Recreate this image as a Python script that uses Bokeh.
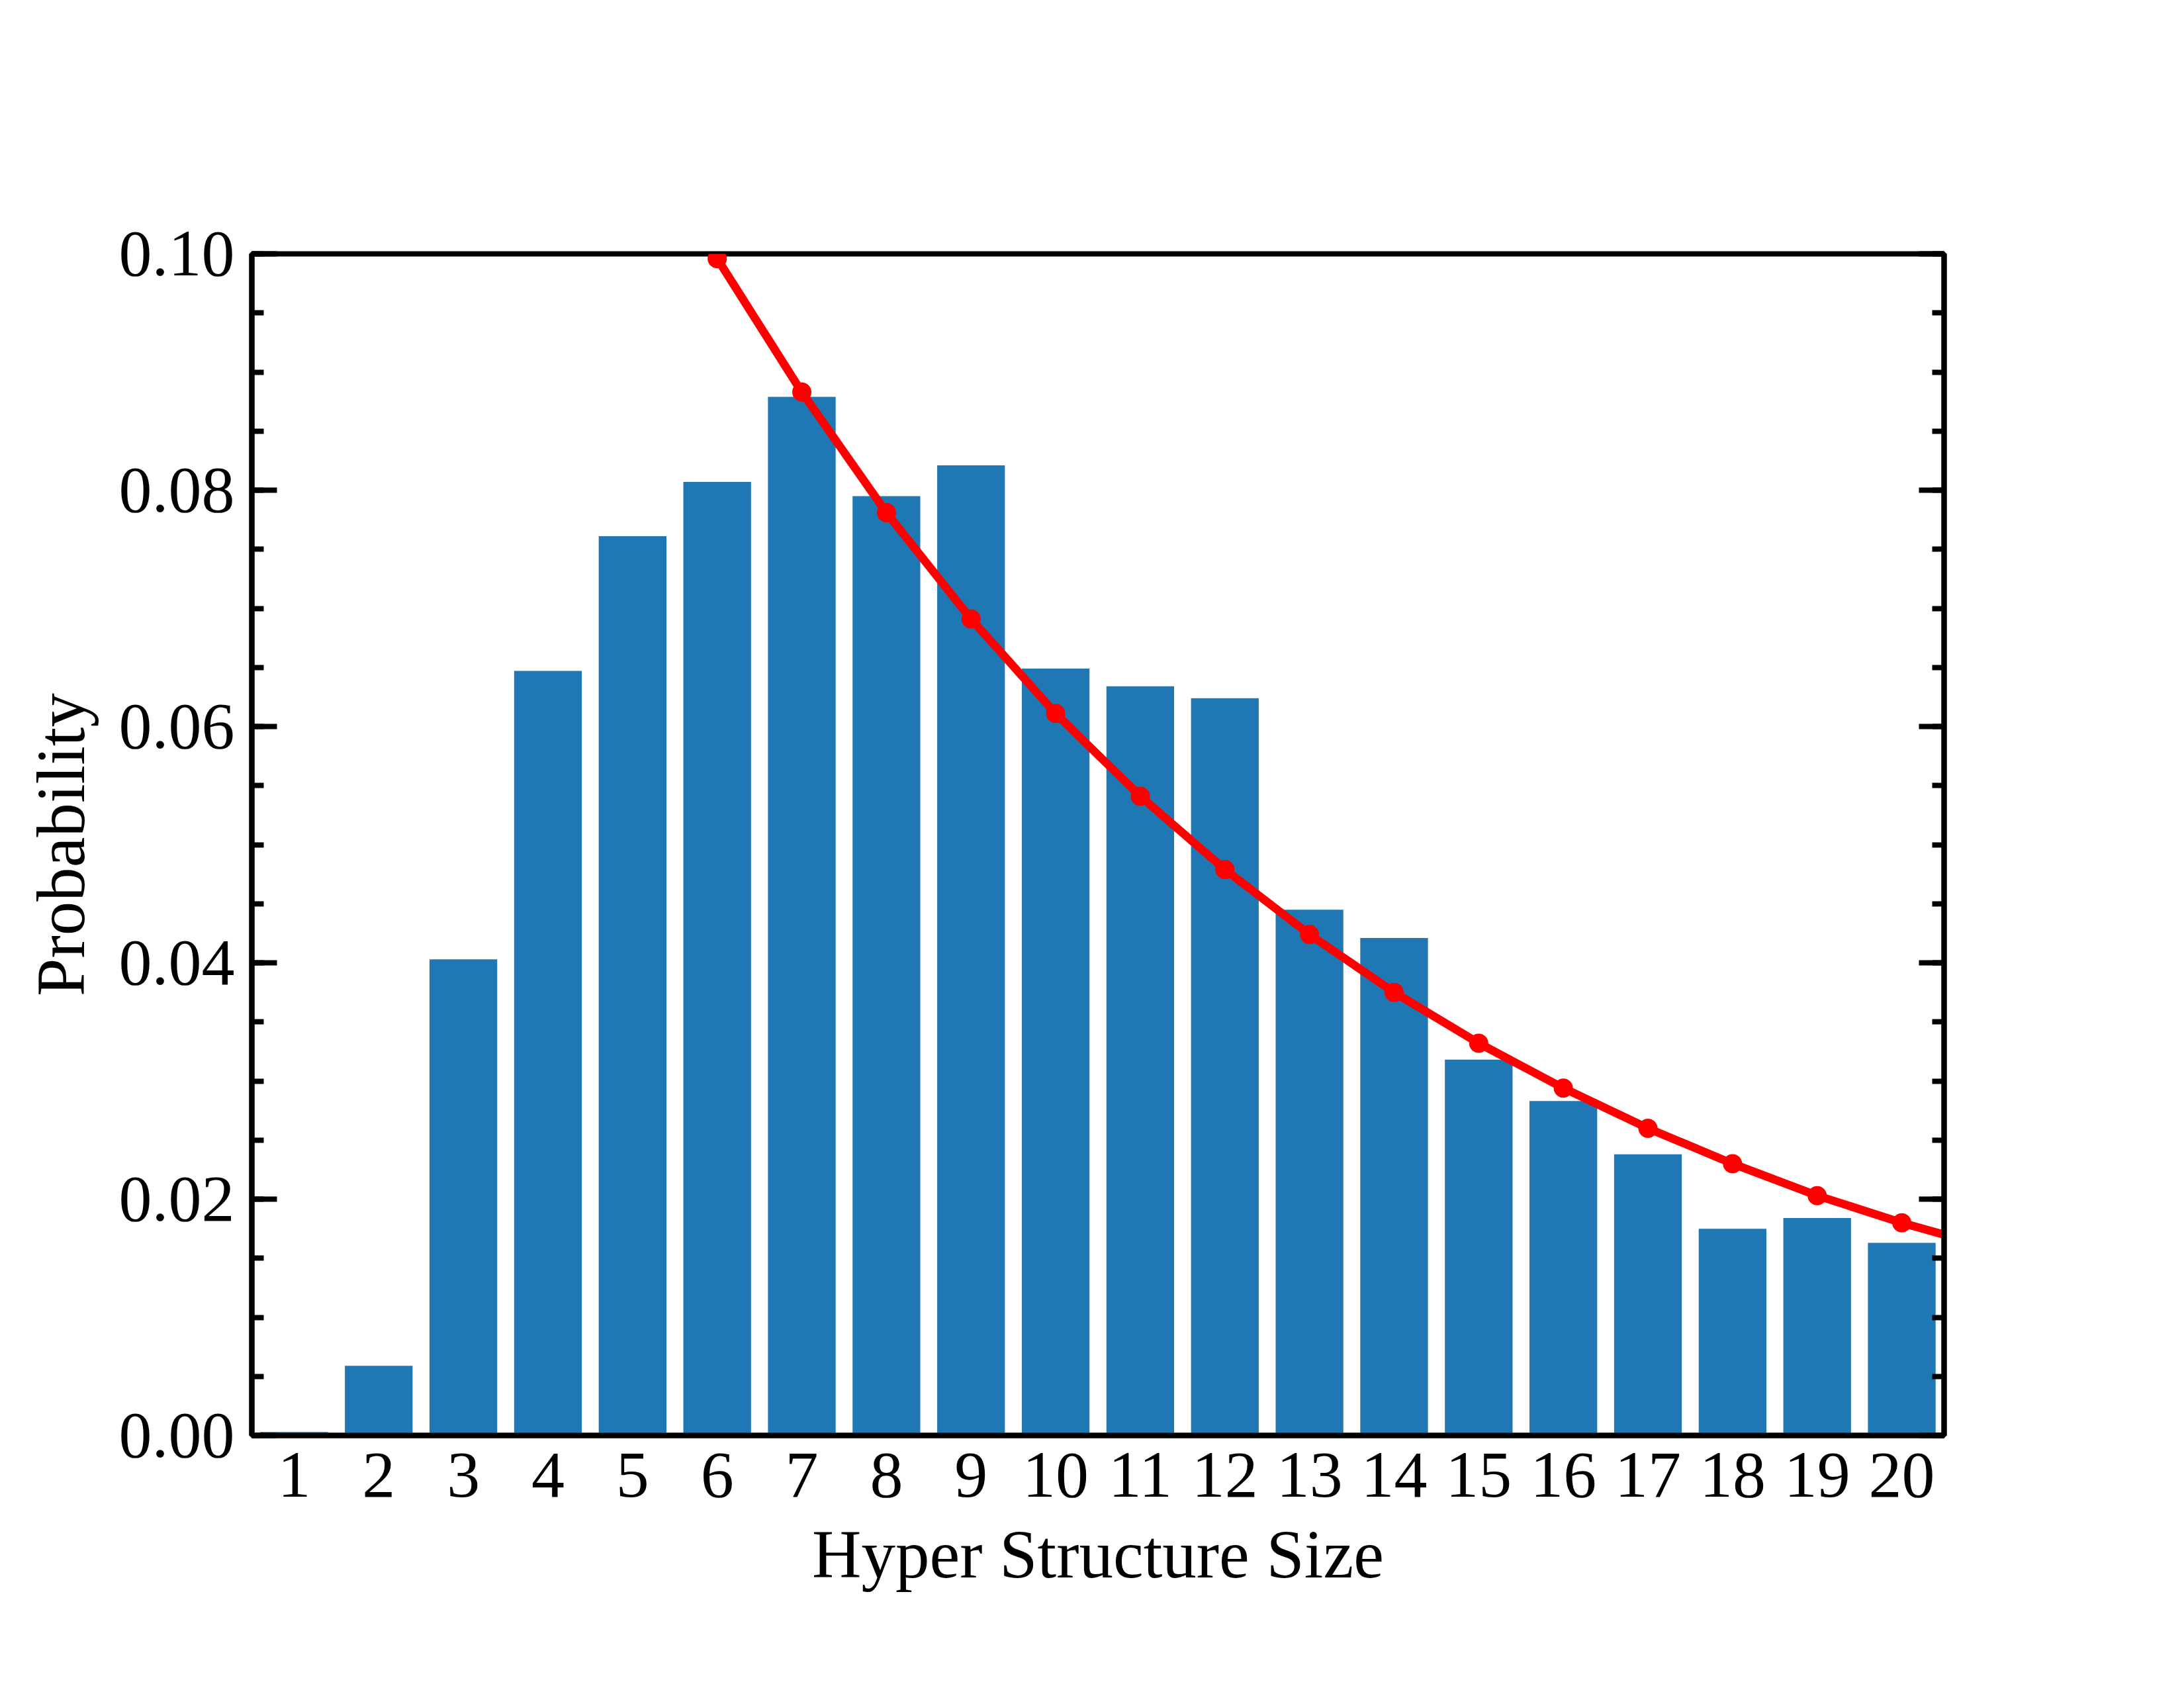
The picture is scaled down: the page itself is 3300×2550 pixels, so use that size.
from bokeh.plotting import figure
from bokeh.models import (Range1d, SingleIntervalTicker, FixedTicker, LinearAxis,
                          PrintfTickFormatter, CustomJSTickFormatter)
from bokeh.embed import file_html
from bokeh.resources import INLINE

# ---- data ----
sizes = list(range(1, 21))
size_labels = [str(s) for s in sizes]
probability = [0.0003, 0.0059, 0.0403, 0.0647, 0.0761, 0.0807, 0.0879, 0.0795, 0.0821, 0.0649,
               0.0634, 0.0624, 0.0445, 0.0421, 0.0318, 0.0283, 0.0238, 0.0175, 0.0184, 0.0163]
fit_x = [6, 7, 8, 9, 10, 11, 12, 13, 14, 15, 16, 17, 18, 19, 20, 21]
fit_y = [0.0996, 0.0883, 0.0781, 0.0691, 0.0611, 0.0541, 0.0479, 0.0424, 0.0375, 0.0332,
         0.0294, 0.0260, 0.0230, 0.0203, 0.0180, 0.0160]
y_ticks_major = 0.02

FONT = "Liberation Serif"
W, H = 3284, 2534

p = figure(width=W, height=H, output_backend="svg", toolbar_location=None,
           x_range=Range1d(0.5, 20.5), y_range=Range1d(0, 0.1),
           min_border_left=380, min_border_right=347, min_border_top=383, min_border_bottom=366)
p.background_fill_color = "white"
p.border_fill_color = "white"
p.xgrid.visible = False
p.ygrid.visible = False
p.outline_line_color = "black"
p.outline_line_width = 8

p.vbar(x=sizes, top=probability, width=0.8, bottom=0, fill_color="#1f77b4", line_color=None)
p.line(fit_x, fit_y, line_color="#ff0000", line_width=12.5)
p.scatter(fit_x, fit_y, size=29, fill_color="#ff0000", line_color=None)

yticker = SingleIntervalTicker(interval=y_ticks_major, num_minor_ticks=4)

# left axis
ya = p.yaxis[0]
ya.ticker = yticker
ya.formatter = PrintfTickFormatter(format="%.2f")
ya.axis_line_width = 8
ya.major_tick_in = 38
ya.major_tick_out = 0
ya.minor_tick_in = 18
ya.minor_tick_out = 0
ya.major_tick_line_width = 8
ya.minor_tick_line_width = 8
ya.major_label_text_font = FONT
ya.major_label_text_font_size = "100px"
ya.major_label_text_color = "black"
ya.major_label_standoff = 26
ya.axis_label = "Probability"
ya.axis_label_text_font = FONT
ya.axis_label_text_font_size = "103px"
ya.axis_label_text_font_style = "normal"
ya.axis_label_text_color = "black"
ya.axis_label_standoff = 28

# bottom axis
xa = p.xaxis[0]
xa.ticker = FixedTicker(ticks=sizes)
xa.major_label_overrides = {s: lab for s, lab in zip(sizes, size_labels)}
xa.axis_line_width = 8
xa.major_tick_in = 0
xa.major_tick_out = 0
xa.minor_tick_in = 0
xa.minor_tick_out = 0
xa.major_label_text_font = FONT
xa.major_label_text_font_size = "100px"
xa.major_label_text_color = "black"
xa.major_label_standoff = 27
xa.axis_label = "Hyper Structure Size"
xa.axis_label_text_font = FONT
xa.axis_label_text_font_size = "103px"
xa.axis_label_text_font_style = "normal"
xa.axis_label_text_color = "black"
xa.axis_label_standoff = 27

# right axis (ticks only, no labels)
ra = LinearAxis(ticker=yticker, axis_line_width=8,
                major_tick_in=38, major_tick_out=0, minor_tick_in=18, minor_tick_out=0,
                major_tick_line_width=8, minor_tick_line_width=8,
                formatter=CustomJSTickFormatter(code="return ''"),
                major_label_standoff=0)
p.add_layout(ra, "right")

open("out.html", "w").write(file_html(p, INLINE))
